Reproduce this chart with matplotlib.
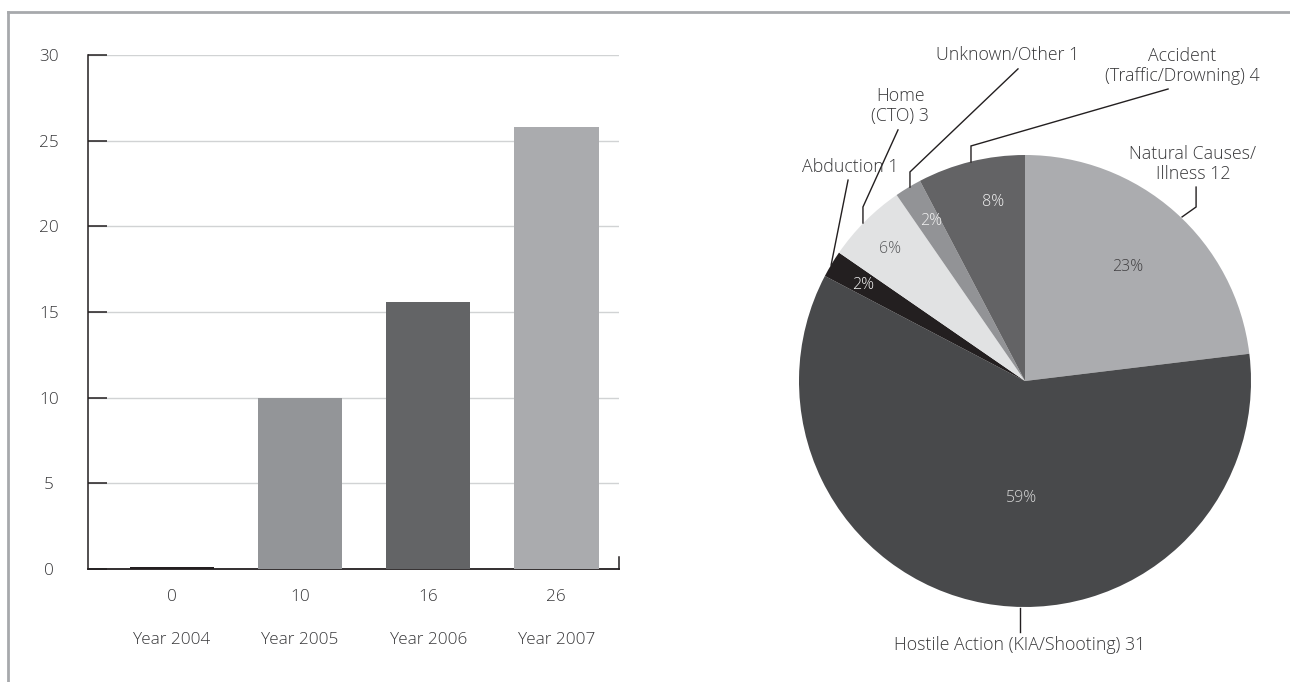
import matplotlib
matplotlib.use("Agg")
import matplotlib.pyplot as plt
from matplotlib.lines import Line2D

# ---------------- data ----------------
years = ["Year 2004", "Year 2005", "Year 2006", "Year 2007"]
bar_heights = [0.12, 10, 15.6, 25.8]
bar_value_labels = ["0", "10", "16", "26"]
y_ticks = [0, 5, 10, 15, 20, 25, 30]

causes = ["Natural Causes/\nIllness 12", "Hostile Action (KIA/Shooting) 31", "Abduction 1",
          "Home\n(CTO) 3", "Unknown/Other 1", "Accident\n(Traffic/Drowning) 4"]
cause_counts = [12, 31, 1, 3, 1, 4]
cause_pct = ["23%", "59%", "2%", "6%", "2%", "8%"]

# ---------------- style ----------------
bar_colors = ["#231F20", "#939598", "#636466", "#AAABAE"]
pie_colors = ["#ABACAF", "#48494B", "#231F20", "#E1E2E3", "#929396", "#636365"]
pct_colors = ["#414042", "#D8D8D8", "#F2F2F2", "#58595B", "#F2F2F2", "#F2F2F2"]
txt = "#38383A"
dark = "#231F20"
FONT = "Open Sans"
plt.rcParams["font.family"] = [FONT, "DejaVu Sans"]
plt.rcParams["font.weight"] = "light"
FS = 12.3
PFS = 12.8

W, H = 1290, 682
fig = plt.figure(figsize=(W / 100, H / 100), dpi=100)

# frame (top and left gray border)
fig.add_artist(Line2D([8 / W, 8 / W], [0, 1 - 12 / H], transform=fig.transFigure, color="#A7A9AC", lw=2))
fig.add_artist(Line2D([8 / W, 1], [1 - 12 / H, 1 - 12 / H], transform=fig.transFigure, color="#A7A9AC", lw=2))

# ---------------- bar chart ----------------
axl, axr, axt, axb = 88, 619, 55, 569
ax = fig.add_axes([axl / W, 1 - axb / H, (axr - axl) / W, (axb - axt) / H])
xs = list(range(len(years)))
ax.bar(xs, bar_heights, width=0.66, color=bar_colors, zorder=3)
ax.set_xlim(-0.656, 3.49)
ax.set_ylim(0, 30)
ax.set_yticks(y_ticks)
ax.set_yticklabels([str(t) for t in y_ticks], fontsize=FS, color=txt)
ax.tick_params(axis="y", direction="in", length=14, width=1.1, color=dark, pad=28)
for lbl in ax.get_yticklabels():
    lbl.set_horizontalalignment("center")
ax.set_xticks([])
for t in y_ticks[1:]:
    ax.axhline(t, color="#D1D3D4", lw=1, zorder=1)
ax.spines["top"].set_visible(False)
for s in ["left", "bottom", "right"]:
    ax.spines[s].set_color(dark)
ax.spines["left"].set_linewidth(1.1)
ax.spines["bottom"].set_linewidth(1.3)
ax.spines["right"].set_linewidth(1.1)
ax.spines["right"].set_bounds(0, 0.7)
for x, v, y in zip(xs, bar_value_labels, years):
    ax.annotate(v, xy=(x, 0), xycoords=("data", "axes fraction"), xytext=(0, -20),
                textcoords="offset points", ha="center", va="center", fontsize=FS, color=txt)
    ax.annotate(y, xy=(x, 0), xycoords=("data", "axes fraction"), xytext=(0, -51),
                textcoords="offset points", ha="center", va="center", fontsize=FS, color=txt)

# ---------------- pie chart ----------------
cx, cy, R = 1025, 381, 226
half = 300
pax = fig.add_axes([(cx - half) / W, (H - cy - half) / H, 2 * half / W, 2 * half / H])
L = half / R
pax.pie(cause_counts, colors=pie_colors, startangle=90, counterclock=False, radius=1,
        wedgeprops=dict(linewidth=0))
pax.set_xlim(-L, L)
pax.set_ylim(-L, L)
pax.set_aspect("equal")
pax.axis("off")

pct_pos = [(0.456, 0.504), (-0.013, -0.518), (-0.717, 0.425), (-0.597, 0.584),
           (-0.416, 0.708), (-0.142, 0.792)]
for (px, py), p, c in zip(pct_pos, cause_pct, pct_colors):
    pax.text(px, py, p, ha="center", va="center", fontsize=11.5, color=c)

label_pos = [(0.743, 0.960), (-0.022, -1.166), (-0.774, 0.947), (-0.553, 1.217),
             (-0.075, 1.442), (0.695, 1.394)]
leaders = [
    [(0.757, 0.858), (0.757, 0.770), (0.695, 0.726)],
    [(-0.022, -1.004), (-0.022, -1.111)],
    [(-0.783, 0.889), (-0.858, 0.513)],
    [(-0.562, 1.111), (-0.717, 0.770), (-0.717, 0.699)],
    [(-0.031, 1.381), (-0.509, 0.925), (-0.509, 0.858)],
    [(0.633, 1.292), (-0.239, 1.040), (-0.239, 0.969)],
]
for (lx, ly), lab, pts in zip(label_pos, causes, leaders):
    pax.text(lx, ly, lab, ha="center", va="center", fontsize=PFS, color=txt,
             linespacing=1.15, clip_on=False)
    pax.plot([p[0] for p in pts], [p[1] for p in pts], color=dark, lw=1.0,
             clip_on=False, solid_joinstyle="miter")

fig.savefig("out.png", dpi=100)
